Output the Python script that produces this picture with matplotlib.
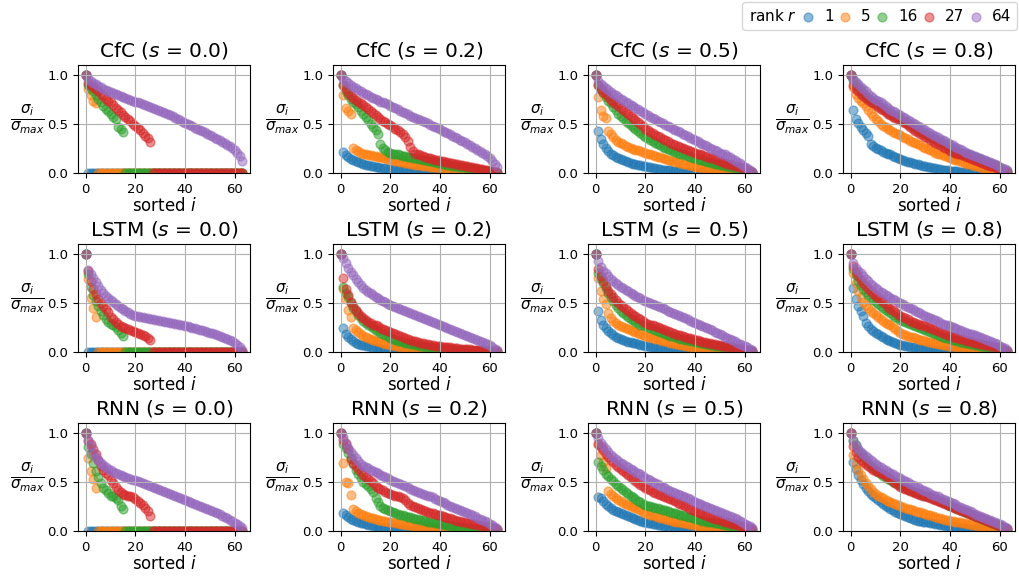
import numpy as np
import matplotlib
matplotlib.use('Agg')
import matplotlib.pyplot as plt

ranks = [1, 5, 16, 27, 64]
models = ['CfC', 'LSTM', 'RNN']
sparsities = [0.0, 0.2, 0.5, 0.8]
colores = ['tab:blue', 'tab:orange', 'tab:green', 'tab:red', 'tab:purple']
indices = list(range(64))

# valores singulares normalizados, ordenados (rangos 1, 5, 16, 27, 64)
cfc_s0 = [
    [1.0] + [0.0] * 63,
    [1.00, 0.86, 0.80, 0.74, 0.71] + [0.0] * 59,
    [1.00, 0.90, 0.87, 0.84, 0.80, 0.76, 0.72, 0.68, 0.65, 0.63,
     0.60, 0.57, 0.55, 0.47, 0.45, 0.42] + [0.0] * 48,
    [1.00, 0.92, 0.90, 0.88, 0.86, 0.84, 0.81, 0.79, 0.76, 0.74,
     0.72, 0.69, 0.66, 0.64, 0.62, 0.59, 0.57, 0.55, 0.53, 0.50,
     0.48, 0.46, 0.44, 0.41, 0.38, 0.36, 0.32] + [0.0] * 37,
    [1.00, 0.96, 0.94, 0.92, 0.91, 0.89, 0.88, 0.86, 0.85, 0.84,
     0.83, 0.82, 0.81, 0.80, 0.79, 0.78, 0.77, 0.76, 0.75, 0.74,
     0.73, 0.72, 0.71, 0.70, 0.69, 0.68, 0.67, 0.66, 0.65, 0.64,
     0.63, 0.62, 0.61, 0.60, 0.59, 0.58, 0.565, 0.55, 0.54, 0.525,
     0.51, 0.50, 0.49, 0.48, 0.465, 0.45, 0.44, 0.43, 0.415, 0.40,
     0.39, 0.375, 0.36, 0.35, 0.335, 0.32, 0.305, 0.29, 0.275, 0.26,
     0.235, 0.21, 0.17, 0.12],
]
cfc_s2 = [
    [1.00, 0.22, 0.18, 0.16, 0.14, 0.13, 0.12, 0.11, 0.10, 0.09,
     0.085, 0.08, 0.075, 0.07, 0.065, 0.06, 0.056, 0.052, 0.048, 0.045,
     0.042, 0.039, 0.036, 0.034, 0.032, 0.03, 0.028, 0.026, 0.024, 0.022,
     0.02, 0.019, 0.018, 0.017, 0.016, 0.015, 0.014, 0.013, 0.012, 0.011,
     0.01, 0.009, 0.009, 0.008, 0.008, 0.007, 0.007, 0.006, 0.006, 0.005,
     0.005, 0.004, 0.004, 0.003, 0.003, 0.003, 0.002, 0.002, 0.002, 0.001,
     0.001, 0.001, 0.001, 0.0],
    [1.00, 0.80, 0.66, 0.63, 0.60, 0.26, 0.24, 0.23, 0.21, 0.20,
     0.19, 0.185, 0.18, 0.175, 0.17, 0.165, 0.16, 0.155, 0.15, 0.14,
     0.135, 0.13, 0.125, 0.12, 0.115, 0.11, 0.105, 0.10, 0.095, 0.09,
     0.087, 0.084, 0.08, 0.077, 0.074, 0.07, 0.067, 0.064, 0.06, 0.057,
     0.055, 0.052, 0.05, 0.047, 0.045, 0.042, 0.04, 0.038, 0.035, 0.033,
     0.03, 0.028, 0.026, 0.024, 0.022, 0.02, 0.018, 0.016, 0.014, 0.012,
     0.01, 0.008, 0.006, 0.004],
    [1.00, 0.90, 0.84, 0.80, 0.76, 0.73, 0.70, 0.67, 0.63, 0.60,
     0.57, 0.54, 0.50, 0.47, 0.44, 0.40, 0.30, 0.26, 0.24, 0.22,
     0.21, 0.20, 0.195, 0.19, 0.18, 0.175, 0.17, 0.165, 0.16, 0.155,
     0.15, 0.145, 0.14, 0.135, 0.13, 0.125, 0.12, 0.115, 0.11, 0.105,
     0.10, 0.095, 0.09, 0.085, 0.08, 0.077, 0.073, 0.07, 0.066, 0.062,
     0.058, 0.054, 0.05, 0.046, 0.042, 0.038, 0.034, 0.03, 0.026, 0.022,
     0.018, 0.014, 0.01, 0.006],
    [1.00, 0.90, 0.86, 0.82, 0.79, 0.77, 0.75, 0.73, 0.71, 0.69,
     0.67, 0.65, 0.63, 0.61, 0.59, 0.57, 0.55, 0.53, 0.52, 0.50,
     0.49, 0.47, 0.45, 0.44, 0.42, 0.40, 0.37, 0.33, 0.27, 0.23,
     0.20, 0.19, 0.18, 0.17, 0.16, 0.155, 0.15, 0.14, 0.135, 0.13,
     0.125, 0.12, 0.115, 0.11, 0.105, 0.10, 0.095, 0.09, 0.085, 0.08,
     0.075, 0.07, 0.065, 0.06, 0.055, 0.05, 0.045, 0.04, 0.035, 0.03,
     0.025, 0.02, 0.015, 0.01],
    [1.00, 0.96, 0.94, 0.92, 0.90, 0.88, 0.87, 0.85, 0.84, 0.82,
     0.81, 0.80, 0.78, 0.77, 0.76, 0.75, 0.73, 0.72, 0.71, 0.70,
     0.68, 0.67, 0.66, 0.65, 0.63, 0.62, 0.61, 0.60, 0.58, 0.57,
     0.56, 0.55, 0.54, 0.53, 0.52, 0.51, 0.49, 0.48, 0.47, 0.46,
     0.45, 0.43, 0.42, 0.41, 0.40, 0.38, 0.37, 0.36, 0.34, 0.33,
     0.32, 0.30, 0.29, 0.27, 0.26, 0.24, 0.23, 0.21, 0.19, 0.17,
     0.15, 0.12, 0.09, 0.06],
]
cfc_s5 = [
    [1.00, 0.43, 0.35, 0.30, 0.26, 0.23, 0.20, 0.18, 0.165, 0.15,
     0.14, 0.13, 0.12, 0.11, 0.10, 0.095, 0.09, 0.085, 0.08, 0.075,
     0.07, 0.065, 0.06, 0.055, 0.05, 0.045, 0.04, 0.037, 0.034, 0.03,
     0.028, 0.025, 0.022, 0.02, 0.018, 0.016, 0.014, 0.012, 0.011, 0.01,
     0.009, 0.008, 0.007, 0.006, 0.005, 0.005, 0.004, 0.004, 0.003, 0.003,
     0.003, 0.002, 0.002, 0.002, 0.002, 0.001, 0.001, 0.001, 0.001, 0.001,
     0.0, 0.0, 0.0, 0.0],
    [1.00, 0.78, 0.64, 0.58, 0.56, 0.43, 0.40, 0.37, 0.34, 0.32,
     0.31, 0.30, 0.28, 0.27, 0.26, 0.25, 0.24, 0.235, 0.225, 0.215,
     0.205, 0.20, 0.19, 0.18, 0.175, 0.165, 0.16, 0.15, 0.145, 0.135,
     0.13, 0.12, 0.115, 0.11, 0.10, 0.095, 0.09, 0.085, 0.08, 0.07,
     0.065, 0.06, 0.058, 0.055, 0.05, 0.047, 0.043, 0.04, 0.036, 0.033,
     0.03, 0.027, 0.024, 0.021, 0.018, 0.016, 0.014, 0.012, 0.01, 0.008,
     0.006, 0.004, 0.002, 0.001],
    [1.00, 0.90, 0.86, 0.82, 0.78, 0.74, 0.71, 0.67, 0.64, 0.60,
     0.58, 0.56, 0.53, 0.51, 0.49, 0.47, 0.45, 0.43, 0.41, 0.39,
     0.37, 0.36, 0.34, 0.33, 0.31, 0.30, 0.29, 0.27, 0.26, 0.25,
     0.24, 0.23, 0.22, 0.21, 0.20, 0.19, 0.18, 0.17, 0.16, 0.155,
     0.15, 0.14, 0.135, 0.13, 0.12, 0.115, 0.11, 0.10, 0.095, 0.09,
     0.085, 0.08, 0.075, 0.07, 0.065, 0.06, 0.055, 0.05, 0.045, 0.04,
     0.03, 0.025, 0.015, 0.01],
    [1.00, 0.90, 0.86, 0.83, 0.81, 0.78, 0.75, 0.73, 0.70, 0.68,
     0.66, 0.64, 0.62, 0.60, 0.58, 0.56, 0.54, 0.52, 0.50, 0.48,
     0.45, 0.44, 0.42, 0.41, 0.39, 0.38, 0.37, 0.35, 0.34, 0.33,
     0.31, 0.30, 0.29, 0.28, 0.27, 0.26, 0.25, 0.24, 0.23, 0.22,
     0.21, 0.20, 0.19, 0.18, 0.17, 0.165, 0.155, 0.15, 0.14, 0.13,
     0.12, 0.11, 0.10, 0.095, 0.09, 0.08, 0.075, 0.07, 0.06, 0.05,
     0.04, 0.03, 0.02, 0.015],
    [1.00, 0.94, 0.91, 0.89, 0.87, 0.85, 0.83, 0.81, 0.80, 0.78,
     0.76, 0.75, 0.73, 0.71, 0.69, 0.68, 0.66, 0.65, 0.63, 0.62,
     0.60, 0.59, 0.57, 0.56, 0.55, 0.53, 0.52, 0.51, 0.49, 0.48,
     0.47, 0.45, 0.44, 0.43, 0.42, 0.40, 0.39, 0.38, 0.36, 0.35,
     0.34, 0.33, 0.31, 0.30, 0.29, 0.28, 0.26, 0.25, 0.24, 0.23,
     0.21, 0.20, 0.19, 0.17, 0.16, 0.14, 0.13, 0.11, 0.10, 0.08,
     0.065, 0.05, 0.03, 0.015],
]
cfc_s8 = [
    [1.00, 0.64, 0.55, 0.51, 0.47, 0.44, 0.41, 0.38, 0.30, 0.28,
     0.26, 0.25, 0.24, 0.22, 0.21, 0.20, 0.19, 0.17, 0.16, 0.15,
     0.14, 0.13, 0.12, 0.115, 0.11, 0.10, 0.095, 0.09, 0.08, 0.075,
     0.07, 0.065, 0.06, 0.055, 0.05, 0.045, 0.04, 0.035, 0.03, 0.028,
     0.025, 0.022, 0.02, 0.018, 0.016, 0.014, 0.012, 0.01, 0.009, 0.008,
     0.007, 0.006, 0.005, 0.004, 0.004, 0.003, 0.003, 0.002, 0.002, 0.002,
     0.001, 0.001, 0.001, 0.0],
    [1.00, 0.88, 0.81, 0.77, 0.74, 0.71, 0.68, 0.64, 0.61, 0.58,
     0.55, 0.53, 0.50, 0.48, 0.47, 0.45, 0.44, 0.42, 0.41, 0.40,
     0.39, 0.37, 0.36, 0.35, 0.33, 0.32, 0.31, 0.30, 0.29, 0.27,
     0.26, 0.25, 0.24, 0.23, 0.21, 0.20, 0.19, 0.18, 0.17, 0.16,
     0.15, 0.14, 0.135, 0.13, 0.12, 0.11, 0.10, 0.095, 0.09, 0.08,
     0.075, 0.07, 0.06, 0.055, 0.05, 0.045, 0.04, 0.035, 0.03, 0.025,
     0.02, 0.015, 0.01, 0.005],
    [1.00, 0.95, 0.91, 0.88, 0.85, 0.82, 0.79, 0.77, 0.75, 0.73,
     0.71, 0.69, 0.67, 0.66, 0.64, 0.62, 0.61, 0.59, 0.58, 0.57,
     0.55, 0.54, 0.52, 0.51, 0.49, 0.48, 0.46, 0.45, 0.43, 0.42,
     0.40, 0.39, 0.37, 0.36, 0.35, 0.33, 0.32, 0.31, 0.29, 0.28,
     0.27, 0.26, 0.24, 0.23, 0.22, 0.21, 0.20, 0.19, 0.18, 0.17,
     0.16, 0.15, 0.14, 0.13, 0.12, 0.11, 0.10, 0.09, 0.08, 0.07,
     0.05, 0.04, 0.03, 0.02],
    [1.00, 0.90, 0.86, 0.84, 0.81, 0.79, 0.77, 0.75, 0.73, 0.71,
     0.69, 0.67, 0.65, 0.64, 0.62, 0.60, 0.59, 0.57, 0.56, 0.55,
     0.54, 0.52, 0.51, 0.49, 0.47, 0.45, 0.43, 0.42, 0.40, 0.39,
     0.37, 0.36, 0.34, 0.33, 0.31, 0.30, 0.29, 0.27, 0.26, 0.25,
     0.23, 0.22, 0.21, 0.20, 0.19, 0.18, 0.17, 0.16, 0.15, 0.14,
     0.13, 0.12, 0.11, 0.10, 0.09, 0.08, 0.075, 0.07, 0.06, 0.05,
     0.035, 0.025, 0.015, 0.01],
    [1.00, 0.96, 0.93, 0.91, 0.88, 0.86, 0.84, 0.81, 0.79, 0.77,
     0.75, 0.74, 0.72, 0.70, 0.68, 0.66, 0.64, 0.63, 0.62, 0.60,
     0.59, 0.57, 0.56, 0.54, 0.53, 0.51, 0.50, 0.48, 0.47, 0.45,
     0.44, 0.42, 0.41, 0.39, 0.38, 0.37, 0.35, 0.34, 0.33, 0.31,
     0.30, 0.29, 0.27, 0.26, 0.25, 0.24, 0.22, 0.21, 0.19, 0.18,
     0.17, 0.16, 0.15, 0.14, 0.13, 0.12, 0.11, 0.10, 0.09, 0.08,
     0.06, 0.05, 0.04, 0.03],
]

lstm_s0 = [
    [1.0] + [0.0] * 63,
    [1.00, 0.74, 0.55, 0.45, 0.36] + [0.0] * 59,
    [1.00, 0.79, 0.66, 0.58, 0.52, 0.47, 0.42, 0.38, 0.34, 0.31,
     0.29, 0.27, 0.25, 0.22, 0.19, 0.16] + [0.0] * 48,
    [1.00, 0.83, 0.72, 0.64, 0.59, 0.54, 0.50, 0.47, 0.44, 0.41,
     0.36, 0.34, 0.31, 0.29, 0.26, 0.25, 0.24, 0.23, 0.22, 0.21,
     0.20, 0.19, 0.18, 0.17, 0.16, 0.14, 0.12] + [0.0] * 37,
    [1.00, 0.84, 0.79, 0.75, 0.71, 0.67, 0.63, 0.60, 0.57, 0.55,
     0.53, 0.51, 0.49, 0.47, 0.45, 0.44, 0.42, 0.41, 0.39, 0.38,
     0.37, 0.365, 0.36, 0.355, 0.35, 0.345, 0.34, 0.335, 0.33, 0.325,
     0.32, 0.315, 0.31, 0.305, 0.30, 0.295, 0.29, 0.285, 0.28, 0.27,
     0.265, 0.26, 0.25, 0.245, 0.24, 0.23, 0.225, 0.22, 0.21, 0.20,
     0.195, 0.19, 0.18, 0.17, 0.16, 0.15, 0.14, 0.13, 0.12, 0.11,
     0.09, 0.07, 0.05, 0.02],
]
lstm_s2 = [
    [1.00, 0.24, 0.18, 0.15, 0.13, 0.11, 0.095, 0.085, 0.075, 0.068,
     0.062, 0.056, 0.05, 0.045, 0.04, 0.036, 0.032, 0.029, 0.026, 0.023,
     0.021, 0.019, 0.017, 0.015, 0.014, 0.013, 0.012, 0.011, 0.01, 0.009,
     0.008, 0.008, 0.007, 0.007, 0.006, 0.006, 0.005, 0.005, 0.004, 0.004,
     0.004, 0.003, 0.003, 0.003, 0.003, 0.002, 0.002, 0.002, 0.002, 0.002,
     0.001, 0.001, 0.001, 0.001, 0.001, 0.001, 0.001, 0.001, 0.001, 0.001,
     0.0, 0.0, 0.0, 0.0],
    [1.00, 0.64, 0.54, 0.43, 0.36, 0.24, 0.22, 0.20, 0.18, 0.165,
     0.155, 0.145, 0.135, 0.125, 0.115, 0.11, 0.10, 0.095, 0.085, 0.08,
     0.075, 0.07, 0.065, 0.06, 0.055, 0.05, 0.047, 0.044, 0.041, 0.038,
     0.036, 0.033, 0.031, 0.029, 0.027, 0.025, 0.023, 0.021, 0.019, 0.017,
     0.016, 0.015, 0.014, 0.013, 0.012, 0.011, 0.01, 0.009, 0.009, 0.008,
     0.007, 0.007, 0.006, 0.006, 0.005, 0.005, 0.004, 0.004, 0.003, 0.003,
     0.002, 0.002, 0.001, 0.001],
    [1.00, 0.66, 0.60, 0.56, 0.50, 0.45, 0.42, 0.38, 0.35, 0.32,
     0.30, 0.28, 0.26, 0.24, 0.22, 0.21, 0.19, 0.18, 0.17, 0.16,
     0.14, 0.13, 0.125, 0.115, 0.11, 0.10, 0.095, 0.09, 0.085, 0.08,
     0.075, 0.07, 0.065, 0.06, 0.055, 0.05, 0.047, 0.044, 0.041, 0.038,
     0.035, 0.032, 0.03, 0.028, 0.026, 0.024, 0.022, 0.02, 0.018, 0.017,
     0.016, 0.014, 0.013, 0.012, 0.011, 0.01, 0.009, 0.008, 0.007, 0.006,
     0.005, 0.004, 0.003, 0.002],
    [1.00, 0.75, 0.64, 0.58, 0.51, 0.47, 0.43, 0.40, 0.37, 0.35,
     0.33, 0.31, 0.30, 0.28, 0.27, 0.26, 0.245, 0.235, 0.225, 0.215,
     0.205, 0.195, 0.185, 0.175, 0.165, 0.155, 0.145, 0.135, 0.125, 0.115,
     0.11, 0.10, 0.095, 0.09, 0.085, 0.08, 0.075, 0.07, 0.065, 0.06,
     0.058, 0.055, 0.052, 0.049, 0.046, 0.043, 0.04, 0.037, 0.035, 0.033,
     0.031, 0.029, 0.027, 0.025, 0.023, 0.021, 0.019, 0.017, 0.015, 0.013,
     0.011, 0.009, 0.007, 0.005],
    [1.00, 0.96, 0.91, 0.86, 0.82, 0.78, 0.74, 0.71, 0.68, 0.65,
     0.63, 0.61, 0.60, 0.58, 0.56, 0.55, 0.53, 0.52, 0.51, 0.49,
     0.48, 0.47, 0.46, 0.45, 0.44, 0.43, 0.42, 0.41, 0.40, 0.39,
     0.375, 0.365, 0.355, 0.345, 0.335, 0.325, 0.315, 0.305, 0.295, 0.285,
     0.275, 0.265, 0.255, 0.245, 0.235, 0.225, 0.215, 0.205, 0.195, 0.185,
     0.175, 0.165, 0.155, 0.145, 0.135, 0.125, 0.115, 0.10, 0.09, 0.08,
     0.07, 0.05, 0.035, 0.02],
]
lstm_s5 = [
    [1.00, 0.42, 0.33, 0.28, 0.24, 0.21, 0.19, 0.17, 0.155, 0.14,
     0.13, 0.12, 0.11, 0.105, 0.10, 0.095, 0.09, 0.08, 0.075, 0.07,
     0.065, 0.06, 0.055, 0.05, 0.045, 0.04, 0.037, 0.034, 0.03, 0.028,
     0.026, 0.024, 0.022, 0.02, 0.018, 0.017, 0.016, 0.015, 0.014, 0.013,
     0.012, 0.011, 0.01, 0.009, 0.009, 0.008, 0.007, 0.007, 0.006, 0.006,
     0.005, 0.005, 0.004, 0.004, 0.004, 0.003, 0.003, 0.003, 0.002, 0.002,
     0.002, 0.001, 0.001, 0.001],
    [1.00, 0.75, 0.62, 0.54, 0.49, 0.40, 0.35, 0.32, 0.30, 0.28,
     0.26, 0.25, 0.24, 0.23, 0.22, 0.21, 0.20, 0.19, 0.18, 0.17,
     0.16, 0.155, 0.15, 0.14, 0.135, 0.13, 0.12, 0.115, 0.11, 0.10,
     0.095, 0.09, 0.085, 0.08, 0.075, 0.07, 0.065, 0.06, 0.055, 0.05,
     0.045, 0.042, 0.039, 0.036, 0.033, 0.031, 0.029, 0.027, 0.025, 0.023,
     0.021, 0.019, 0.017, 0.016, 0.014, 0.013, 0.012, 0.011, 0.01, 0.009,
     0.008, 0.006, 0.004, 0.002],
    [1.00, 0.80, 0.75, 0.70, 0.65, 0.60, 0.56, 0.52, 0.48, 0.45,
     0.42, 0.40, 0.38, 0.36, 0.34, 0.33, 0.31, 0.30, 0.28, 0.27,
     0.26, 0.25, 0.24, 0.23, 0.22, 0.21, 0.20, 0.19, 0.185, 0.175,
     0.165, 0.16, 0.15, 0.145, 0.135, 0.13, 0.125, 0.12, 0.115, 0.11,
     0.105, 0.10, 0.095, 0.09, 0.085, 0.08, 0.075, 0.07, 0.065, 0.06,
     0.056, 0.052, 0.048, 0.044, 0.04, 0.037, 0.034, 0.031, 0.028, 0.025,
     0.02, 0.016, 0.012, 0.008],
    [1.00, 0.85, 0.77, 0.72, 0.67, 0.62, 0.59, 0.56, 0.53, 0.50,
     0.48, 0.46, 0.44, 0.42, 0.40, 0.38, 0.37, 0.35, 0.34, 0.32,
     0.30, 0.29, 0.28, 0.27, 0.26, 0.25, 0.24, 0.23, 0.22, 0.21,
     0.20, 0.19, 0.185, 0.175, 0.17, 0.16, 0.155, 0.145, 0.14, 0.13,
     0.125, 0.12, 0.11, 0.105, 0.10, 0.095, 0.09, 0.085, 0.08, 0.075,
     0.07, 0.065, 0.06, 0.055, 0.05, 0.046, 0.042, 0.038, 0.034, 0.03,
     0.025, 0.02, 0.015, 0.01],
    [1.00, 0.93, 0.87, 0.83, 0.80, 0.77, 0.74, 0.72, 0.70, 0.68,
     0.66, 0.65, 0.63, 0.62, 0.60, 0.59, 0.57, 0.56, 0.55, 0.53,
     0.52, 0.51, 0.50, 0.49, 0.48, 0.465, 0.455, 0.445, 0.435, 0.42,
     0.41, 0.40, 0.39, 0.38, 0.37, 0.355, 0.345, 0.335, 0.32, 0.31,
     0.30, 0.29, 0.275, 0.265, 0.255, 0.24, 0.23, 0.22, 0.205, 0.19,
     0.18, 0.17, 0.155, 0.145, 0.13, 0.12, 0.11, 0.095, 0.085, 0.075,
     0.065, 0.05, 0.035, 0.02],
]
lstm_s8 = [
    [1.00, 0.65, 0.54, 0.47, 0.42, 0.37, 0.30, 0.26, 0.23, 0.21,
     0.19, 0.18, 0.16, 0.15, 0.135, 0.125, 0.115, 0.105, 0.095, 0.085,
     0.075, 0.07, 0.065, 0.06, 0.055, 0.05, 0.046, 0.042, 0.038, 0.034,
     0.031, 0.028, 0.026, 0.024, 0.022, 0.02, 0.018, 0.016, 0.015, 0.014,
     0.013, 0.012, 0.011, 0.01, 0.009, 0.008, 0.007, 0.007, 0.006, 0.006,
     0.005, 0.005, 0.004, 0.004, 0.003, 0.003, 0.003, 0.002, 0.002, 0.002,
     0.001, 0.001, 0.001, 0.0],
    [1.00, 0.81, 0.70, 0.62, 0.56, 0.51, 0.48, 0.45, 0.42, 0.40,
     0.38, 0.36, 0.34, 0.32, 0.30, 0.29, 0.27, 0.25, 0.23, 0.21,
     0.19, 0.18, 0.17, 0.165, 0.155, 0.15, 0.14, 0.135, 0.125, 0.12,
     0.11, 0.105, 0.10, 0.095, 0.09, 0.085, 0.08, 0.075, 0.07, 0.065,
     0.06, 0.056, 0.052, 0.048, 0.044, 0.04, 0.037, 0.034, 0.031, 0.028,
     0.026, 0.024, 0.022, 0.02, 0.018, 0.016, 0.014, 0.012, 0.01, 0.009,
     0.008, 0.006, 0.004, 0.002],
    [1.00, 0.85, 0.78, 0.72, 0.68, 0.64, 0.61, 0.58, 0.56, 0.53,
     0.51, 0.49, 0.47, 0.45, 0.43, 0.42, 0.40, 0.38, 0.36, 0.35,
     0.33, 0.32, 0.31, 0.30, 0.29, 0.28, 0.26, 0.25, 0.24, 0.23,
     0.22, 0.21, 0.20, 0.19, 0.18, 0.17, 0.16, 0.155, 0.145, 0.14,
     0.13, 0.125, 0.12, 0.11, 0.105, 0.10, 0.095, 0.09, 0.085, 0.08,
     0.075, 0.07, 0.065, 0.06, 0.055, 0.05, 0.045, 0.04, 0.035, 0.03,
     0.025, 0.02, 0.015, 0.01],
    [1.00, 0.88, 0.82, 0.77, 0.73, 0.70, 0.67, 0.64, 0.62, 0.59,
     0.57, 0.55, 0.53, 0.51, 0.49, 0.46, 0.44, 0.43, 0.41, 0.39,
     0.37, 0.36, 0.35, 0.34, 0.32, 0.31, 0.30, 0.29, 0.28, 0.27,
     0.26, 0.25, 0.24, 0.23, 0.22, 0.21, 0.20, 0.19, 0.18, 0.17,
     0.16, 0.155, 0.15, 0.14, 0.135, 0.13, 0.12, 0.115, 0.11, 0.10,
     0.095, 0.09, 0.085, 0.08, 0.075, 0.07, 0.065, 0.06, 0.055, 0.05,
     0.04, 0.03, 0.02, 0.01],
    [1.00, 0.91, 0.86, 0.83, 0.80, 0.77, 0.74, 0.72, 0.69, 0.67,
     0.65, 0.63, 0.61, 0.60, 0.58, 0.57, 0.55, 0.54, 0.53, 0.51,
     0.50, 0.49, 0.47, 0.46, 0.45, 0.44, 0.42, 0.41, 0.40, 0.38,
     0.37, 0.36, 0.35, 0.34, 0.33, 0.32, 0.30, 0.29, 0.28, 0.27,
     0.26, 0.25, 0.24, 0.235, 0.225, 0.215, 0.205, 0.195, 0.185, 0.18,
     0.17, 0.16, 0.15, 0.14, 0.13, 0.12, 0.11, 0.10, 0.09, 0.08,
     0.065, 0.05, 0.04, 0.025],
]

rnn_s0 = [
    [1.0] + [0.0] * 63,
    [1.00, 0.74, 0.61, 0.53, 0.44] + [0.0] * 59,
    [1.00, 0.85, 0.78, 0.69, 0.61, 0.55, 0.49, 0.44, 0.42, 0.39,
     0.36, 0.35, 0.33, 0.31, 0.25, 0.22] + [0.0] * 48,
    [1.00, 0.92, 0.88, 0.83, 0.78, 0.72, 0.66, 0.62, 0.59, 0.57,
     0.52, 0.49, 0.45, 0.42, 0.40, 0.38, 0.37, 0.36, 0.35, 0.34,
     0.32, 0.30, 0.28, 0.26, 0.23, 0.20, 0.15] + [0.0] * 37,
    [1.00, 0.93, 0.86, 0.79, 0.75, 0.72, 0.69, 0.67, 0.65, 0.63,
     0.62, 0.60, 0.59, 0.58, 0.57, 0.56, 0.55, 0.54, 0.53, 0.52,
     0.52, 0.51, 0.50, 0.49, 0.48, 0.47, 0.46, 0.45, 0.44, 0.43,
     0.42, 0.41, 0.40, 0.39, 0.38, 0.37, 0.355, 0.345, 0.335, 0.32,
     0.31, 0.30, 0.29, 0.28, 0.27, 0.26, 0.25, 0.24, 0.23, 0.22,
     0.21, 0.20, 0.19, 0.18, 0.17, 0.155, 0.14, 0.13, 0.115, 0.10,
     0.08, 0.065, 0.045, 0.03],
]
rnn_s2 = [
    [1.00, 0.18, 0.16, 0.14, 0.12, 0.11, 0.10, 0.09, 0.08, 0.075,
     0.068, 0.062, 0.056, 0.05, 0.046, 0.042, 0.038, 0.034, 0.031, 0.028,
     0.025, 0.023, 0.021, 0.019, 0.017, 0.015, 0.014, 0.013, 0.012, 0.011,
     0.01, 0.009, 0.008, 0.008, 0.007, 0.007, 0.006, 0.006, 0.005, 0.005,
     0.004, 0.004, 0.004, 0.003, 0.003, 0.003, 0.003, 0.002, 0.002, 0.002,
     0.002, 0.002, 0.001, 0.001, 0.001, 0.001, 0.001, 0.001, 0.001, 0.001,
     0.0, 0.0, 0.0, 0.0],
    [1.00, 0.69, 0.50, 0.49, 0.37, 0.22, 0.20, 0.18, 0.17, 0.16,
     0.15, 0.14, 0.135, 0.13, 0.12, 0.115, 0.11, 0.105, 0.10, 0.095,
     0.09, 0.085, 0.08, 0.075, 0.07, 0.067, 0.063, 0.06, 0.057, 0.054,
     0.051, 0.048, 0.045, 0.042, 0.04, 0.037, 0.035, 0.033, 0.03, 0.028,
     0.026, 0.024, 0.022, 0.021, 0.019, 0.018, 0.016, 0.015, 0.014, 0.012,
     0.011, 0.01, 0.009, 0.008, 0.007, 0.007, 0.006, 0.005, 0.005, 0.004,
     0.003, 0.003, 0.002, 0.001],
    [1.00, 0.89, 0.84, 0.79, 0.74, 0.68, 0.62, 0.58, 0.54, 0.50,
     0.48, 0.46, 0.43, 0.40, 0.33, 0.29, 0.25, 0.23, 0.22, 0.21,
     0.20, 0.19, 0.18, 0.175, 0.165, 0.16, 0.15, 0.145, 0.14, 0.13,
     0.125, 0.12, 0.115, 0.11, 0.10, 0.095, 0.09, 0.085, 0.08, 0.075,
     0.07, 0.066, 0.062, 0.058, 0.054, 0.05, 0.046, 0.042, 0.039, 0.036,
     0.033, 0.03, 0.027, 0.024, 0.021, 0.019, 0.017, 0.015, 0.013, 0.011,
     0.009, 0.007, 0.005, 0.003],
    [1.00, 0.93, 0.88, 0.83, 0.73, 0.69, 0.66, 0.63, 0.60, 0.57,
     0.55, 0.53, 0.51, 0.49, 0.46, 0.44, 0.43, 0.42, 0.40, 0.39,
     0.38, 0.37, 0.36, 0.35, 0.34, 0.33, 0.31, 0.28, 0.26, 0.25,
     0.24, 0.23, 0.22, 0.21, 0.20, 0.195, 0.185, 0.18, 0.17, 0.165,
     0.16, 0.15, 0.145, 0.135, 0.13, 0.12, 0.115, 0.105, 0.10, 0.09,
     0.085, 0.08, 0.075, 0.07, 0.065, 0.06, 0.055, 0.05, 0.045, 0.04,
     0.035, 0.03, 0.025, 0.02],
    [1.00, 0.96, 0.90, 0.84, 0.80, 0.77, 0.74, 0.71, 0.68, 0.66,
     0.65, 0.64, 0.62, 0.61, 0.60, 0.59, 0.57, 0.56, 0.55, 0.54,
     0.52, 0.51, 0.50, 0.49, 0.48, 0.47, 0.455, 0.445, 0.43, 0.42,
     0.41, 0.40, 0.39, 0.38, 0.37, 0.36, 0.35, 0.34, 0.325, 0.31,
     0.30, 0.29, 0.28, 0.265, 0.255, 0.245, 0.235, 0.225, 0.21, 0.20,
     0.19, 0.18, 0.17, 0.16, 0.15, 0.135, 0.125, 0.115, 0.10, 0.09,
     0.07, 0.055, 0.04, 0.02],
]
rnn_s5 = [
    [1.00, 0.34, 0.33, 0.30, 0.27, 0.25, 0.23, 0.21, 0.20, 0.19,
     0.18, 0.17, 0.16, 0.15, 0.14, 0.13, 0.12, 0.11, 0.10, 0.09,
     0.085, 0.08, 0.075, 0.07, 0.065, 0.06, 0.055, 0.05, 0.046, 0.042,
     0.038, 0.035, 0.032, 0.029, 0.026, 0.024, 0.022, 0.02, 0.018, 0.017,
     0.016, 0.014, 0.013, 0.012, 0.011, 0.01, 0.009, 0.008, 0.007, 0.006,
     0.006, 0.005, 0.005, 0.004, 0.004, 0.003, 0.003, 0.003, 0.002, 0.002,
     0.002, 0.001, 0.001, 0.001],
    [1.00, 0.89, 0.77, 0.70, 0.64, 0.41, 0.38, 0.35, 0.33, 0.31,
     0.30, 0.28, 0.27, 0.26, 0.25, 0.24, 0.23, 0.22, 0.21, 0.195,
     0.18, 0.175, 0.165, 0.16, 0.15, 0.145, 0.135, 0.13, 0.12, 0.115,
     0.11, 0.105, 0.095, 0.09, 0.085, 0.08, 0.075, 0.07, 0.065, 0.06,
     0.057, 0.053, 0.05, 0.046, 0.043, 0.04, 0.037, 0.034, 0.031, 0.028,
     0.026, 0.024, 0.022, 0.02, 0.018, 0.016, 0.014, 0.012, 0.011, 0.01,
     0.008, 0.006, 0.004, 0.002],
    [1.00, 0.70, 0.66, 0.62, 0.58, 0.56, 0.53, 0.51, 0.48, 0.46,
     0.44, 0.42, 0.40, 0.38, 0.36, 0.34, 0.32, 0.30, 0.29, 0.27,
     0.26, 0.255, 0.25, 0.24, 0.235, 0.23, 0.22, 0.215, 0.21, 0.20,
     0.195, 0.185, 0.18, 0.17, 0.165, 0.16, 0.15, 0.145, 0.14, 0.13,
     0.125, 0.12, 0.11, 0.105, 0.10, 0.095, 0.09, 0.085, 0.08, 0.075,
     0.07, 0.065, 0.06, 0.055, 0.05, 0.045, 0.04, 0.035, 0.03, 0.025,
     0.02, 0.016, 0.012, 0.008],
    [1.00, 0.89, 0.85, 0.82, 0.78, 0.75, 0.72, 0.70, 0.67, 0.65,
     0.63, 0.61, 0.59, 0.57, 0.55, 0.53, 0.51, 0.49, 0.47, 0.455,
     0.44, 0.43, 0.42, 0.40, 0.39, 0.38, 0.37, 0.355, 0.345, 0.33,
     0.32, 0.31, 0.30, 0.28, 0.27, 0.26, 0.25, 0.24, 0.225, 0.21,
     0.20, 0.19, 0.18, 0.17, 0.16, 0.15, 0.14, 0.13, 0.125, 0.12,
     0.11, 0.10, 0.095, 0.085, 0.08, 0.07, 0.065, 0.06, 0.05, 0.045,
     0.035, 0.03, 0.025, 0.02],
    [1.00, 0.95, 0.90, 0.86, 0.83, 0.80, 0.77, 0.75, 0.73, 0.71,
     0.69, 0.68, 0.66, 0.65, 0.63, 0.62, 0.60, 0.59, 0.58, 0.56,
     0.54, 0.53, 0.52, 0.50, 0.49, 0.48, 0.46, 0.45, 0.44, 0.42,
     0.41, 0.40, 0.39, 0.375, 0.365, 0.355, 0.345, 0.33, 0.32, 0.30,
     0.29, 0.28, 0.27, 0.26, 0.25, 0.24, 0.23, 0.22, 0.21, 0.20,
     0.19, 0.18, 0.17, 0.16, 0.15, 0.14, 0.13, 0.12, 0.10, 0.09,
     0.07, 0.06, 0.045, 0.03],
]
rnn_s8 = [
    [1.00, 0.70, 0.63, 0.57, 0.52, 0.48, 0.44, 0.41, 0.38, 0.35,
     0.33, 0.31, 0.29, 0.27, 0.25, 0.24, 0.22, 0.21, 0.19, 0.18,
     0.17, 0.16, 0.15, 0.14, 0.13, 0.12, 0.11, 0.105, 0.10, 0.095,
     0.09, 0.085, 0.08, 0.075, 0.07, 0.065, 0.06, 0.055, 0.05, 0.045,
     0.042, 0.038, 0.035, 0.032, 0.029, 0.026, 0.024, 0.022, 0.02, 0.018,
     0.016, 0.014, 0.013, 0.012, 0.011, 0.01, 0.009, 0.008, 0.007, 0.006,
     0.005, 0.004, 0.003, 0.002],
    [1.00, 0.77, 0.68, 0.62, 0.57, 0.53, 0.49, 0.46, 0.43, 0.40,
     0.38, 0.36, 0.34, 0.33, 0.31, 0.30, 0.29, 0.28, 0.27, 0.26,
     0.25, 0.24, 0.235, 0.225, 0.22, 0.21, 0.205, 0.195, 0.19, 0.18,
     0.175, 0.165, 0.16, 0.15, 0.145, 0.135, 0.13, 0.12, 0.115, 0.11,
     0.105, 0.10, 0.095, 0.09, 0.085, 0.08, 0.075, 0.07, 0.065, 0.06,
     0.056, 0.052, 0.048, 0.044, 0.04, 0.036, 0.032, 0.028, 0.024, 0.02,
     0.016, 0.012, 0.008, 0.004],
    [1.00, 0.92, 0.87, 0.82, 0.78, 0.75, 0.72, 0.69, 0.66, 0.64,
     0.62, 0.60, 0.58, 0.56, 0.55, 0.53, 0.52, 0.50, 0.49, 0.48,
     0.47, 0.46, 0.45, 0.43, 0.42, 0.41, 0.40, 0.39, 0.38, 0.37,
     0.36, 0.35, 0.34, 0.33, 0.32, 0.31, 0.30, 0.29, 0.28, 0.26,
     0.25, 0.24, 0.23, 0.22, 0.21, 0.20, 0.19, 0.18, 0.17, 0.16,
     0.15, 0.14, 0.13, 0.12, 0.11, 0.10, 0.09, 0.08, 0.07, 0.06,
     0.05, 0.04, 0.03, 0.02],
    [1.00, 0.86, 0.80, 0.75, 0.72, 0.70, 0.68, 0.66, 0.64, 0.62,
     0.61, 0.60, 0.59, 0.58, 0.56, 0.55, 0.53, 0.51, 0.49, 0.47,
     0.45, 0.44, 0.43, 0.42, 0.41, 0.40, 0.39, 0.38, 0.37, 0.36,
     0.35, 0.34, 0.33, 0.32, 0.31, 0.30, 0.29, 0.28, 0.27, 0.26,
     0.25, 0.24, 0.23, 0.22, 0.21, 0.20, 0.19, 0.18, 0.17, 0.16,
     0.15, 0.14, 0.13, 0.12, 0.11, 0.10, 0.09, 0.08, 0.07, 0.06,
     0.05, 0.04, 0.03, 0.02],
    [1.00, 0.93, 0.87, 0.83, 0.80, 0.78, 0.76, 0.74, 0.72, 0.70,
     0.68, 0.66, 0.65, 0.63, 0.62, 0.60, 0.59, 0.58, 0.56, 0.55,
     0.54, 0.52, 0.51, 0.50, 0.48, 0.47, 0.46, 0.45, 0.43, 0.42,
     0.41, 0.40, 0.38, 0.37, 0.36, 0.35, 0.33, 0.32, 0.31, 0.30,
     0.29, 0.28, 0.27, 0.25, 0.24, 0.23, 0.22, 0.21, 0.20, 0.19,
     0.17, 0.16, 0.15, 0.14, 0.13, 0.12, 0.11, 0.10, 0.09, 0.08,
     0.07, 0.055, 0.04, 0.03],
]

paneles = [
    [cfc_s0, cfc_s2, cfc_s5, cfc_s8],
    [lstm_s0, lstm_s2, lstm_s5, lstm_s8],
    [rnn_s0, rnn_s2, rnn_s5, rnn_s8],
]

fig, axs = plt.subplots(3, 4, figsize=(10.19, 5.77), dpi=100)
plt.subplots_adjust(left=0.0765, right=0.996, top=0.887, bottom=0.080,
                    wspace=0.483, hspace=0.657)

for fila, modelo in enumerate(models):
    for col, s in enumerate(sparsities):
        ax = axs[fila, col]
        series = paneles[fila][col]
        for k, r in enumerate(ranks):
            assert len(series[k]) == 64, (modelo, s, r, len(series[k]))
            ax.scatter(indices, series[k], s=40, alpha=0.5, color=colores[k],
                       label=str(r))
        ax.set_title(f'{modelo} ($s$ = {s})', fontsize=14.5)
        ax.set_xlabel('sorted $i$', fontsize=12, labelpad=1)
        ax.set_ylabel(r'$\frac{\sigma_i}{\sigma_{max}}$', fontsize=15.5,
                      rotation=0, va='center', ha='right', labelpad=2)
        ax.set_ylim(0, 1.1)
        ax.set_xticks([0, 20, 40, 60])
        ax.set_yticks([0.0, 0.5, 1.0])
        ax.tick_params(labelsize=9.5)
        ax.grid(True)

handles, labels = axs[0, 0].get_legend_handles_labels()
leg = fig.legend(handles, labels, title='rank $r$', ncol=5, loc='upper right',
                 bbox_to_anchor=(1.0, 1.0), fontsize=11, title_fontsize=11,
                 handlelength=0.9, handletextpad=0.6, columnspacing=0.3,
                 borderaxespad=0.1)
# titulo de la leyenda en la misma fila que las entradas
leg._legend_box._children = [leg._legend_handle_box]
leg._legend_handle_box._children.insert(0, leg._legend_title_box)

plt.savefig('out.png', dpi=100)
plt.close()
